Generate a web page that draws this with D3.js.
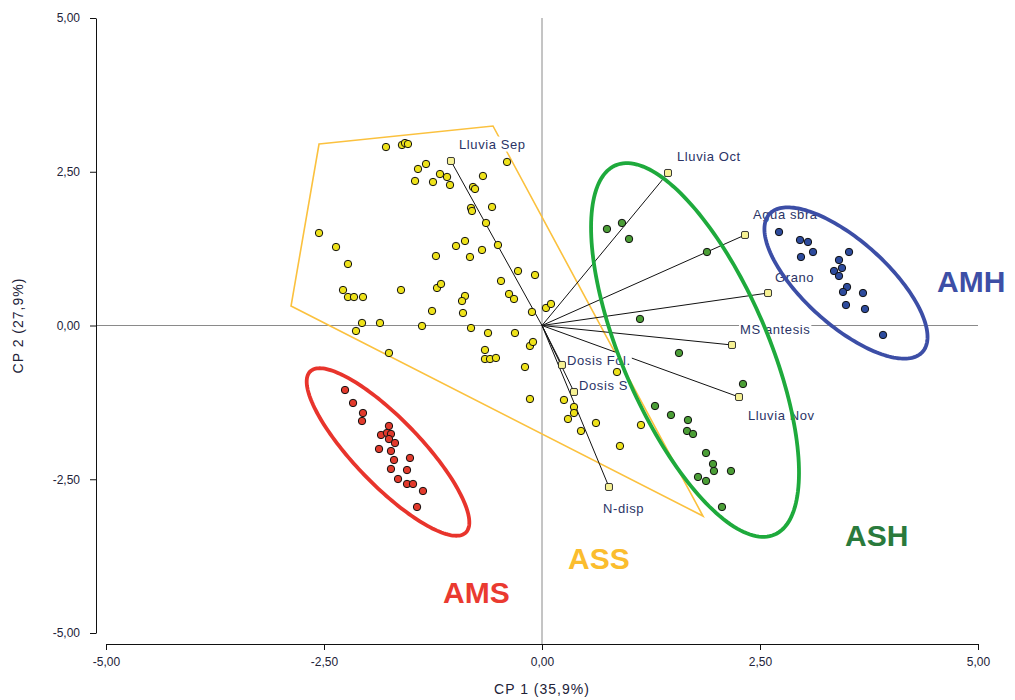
<!DOCTYPE html>
<html>
<head>
<meta charset="utf-8">
<script src="https://cdn.jsdelivr.net/npm/d3@7"></script>
<style>
  body { margin: 0; background: #fff; }
  text { font-family: "Liberation Sans", Arial, sans-serif; }
</style>
</head>
<body>
<svg id="biplot" width="1015" height="700"></svg>
<script>
// scores per group (CP1, CP2)
const ptsASS = [
  [-1.789, 2.902], [-1.606, 2.935], [-1.571, 2.967], [-1.537, 2.951], [-0.401, 2.659],
  [-1.330, 2.626], [-1.422, 2.545], [-1.170, 2.463], [-1.089, 2.415], [-0.677, 2.431],
  [-1.456, 2.350], [-1.250, 2.333], [-1.055, 2.285], [-0.791, 2.252], [-0.768, 2.220],
  [-0.573, 1.927], [-0.814, 1.911], [-0.803, 1.862], [-0.642, 1.667], [-2.557, 1.504],
  [-2.362, 1.276], [-0.986, 1.293], [-0.883, 1.374], [-0.505, 1.309], [-1.216, 1.130],
  [-0.826, 1.114], [-0.688, 1.228], [-2.225, 1.000], [-0.275, 0.886], [-0.080, 0.821],
  [-0.470, 0.724], [-2.282, 0.577], [-2.225, 0.463], [-2.156, 0.463], [-2.053, 0.463],
  [-1.617, 0.577], [-1.204, 0.610], [-1.158, 0.675], [-0.378, 0.512], [-0.321, 0.431],
  [-0.883, 0.480], [-0.917, 0.398], [-1.261, 0.236], [-0.906, 0.203], [-0.115, 0.220],
  [0.046, 0.285], [0.103, 0.350], [-2.064, 0.041], [-2.133, -0.089], [-1.858, 0.041],
  [-1.376, -0.008], [-0.814, -0.041], [-0.619, -0.122], [-0.310, -0.122], [-0.654, -0.398],
  [-0.654, -0.545], [-0.596, -0.545], [-0.528, -0.528], [-0.138, -0.333], [-0.103, -0.268],
  [-0.195, -0.675], [-1.755, -0.447], [0.860, -0.756], [-0.138, -1.195], [0.252, -1.211],
  [0.367, -1.325], [0.367, -1.423], [0.298, -1.520], [0.447, -1.715], [0.619, -1.585],
  [1.135, -1.618], [0.894, -1.959]
];
const ptsAMS = [
  [-2.259, -1.049], [-2.167, -1.260], [-2.053, -1.423], [-2.064, -1.553], [-1.755, -1.634],
  [-1.846, -1.780], [-1.778, -1.748], [-1.732, -1.764], [-1.755, -1.846], [-1.686, -1.911],
  [-1.869, -2.008], [-1.732, -2.041], [-1.697, -2.187], [-1.514, -2.154], [-1.732, -2.333],
  [-1.548, -2.350], [-1.651, -2.496], [-1.548, -2.577], [-1.479, -2.577], [-1.365, -2.691],
  [-1.433, -2.951]
];
const ptsAMH = [
  [2.718, 1.520], [2.959, 1.390], [3.050, 1.358], [3.108, 1.195], [2.970, 1.114],
  [3.521, 1.195], [3.406, 1.065], [3.440, 0.935], [3.349, 0.886], [3.406, 0.805],
  [3.498, 0.626], [3.452, 0.545], [3.681, 0.528], [3.486, 0.333], [3.704, 0.268],
  [3.911, -0.154]
];
const ptsASH = [
  [0.745, 1.569], [0.917, 1.667], [0.998, 1.407], [1.892, 1.195], [1.124, 0.106],
  [1.571, -0.447], [2.305, -0.951], [1.296, -1.309], [1.479, -1.455], [1.674, -1.537],
  [1.663, -1.715], [1.732, -1.764], [1.881, -2.073], [1.961, -2.252], [1.972, -2.366],
  [2.167, -2.366], [1.789, -2.463], [1.881, -2.528], [2.064, -2.951]
];

// variable loadings: tip, then where the label sits
const varNames = ["Lluvia Sep", "Lluvia Oct", "Agua sbra", "Grano", "MS antesis",
                  "Lluvia Nov", "Dosis Fol.", "Dosis S", "N-disp"];
const varTips = [[-1.044, 2.675], [1.445, 2.480], [2.328, 1.472], [2.592, 0.528], [2.179, -0.317],
                 [2.259, -1.163], [0.229, -0.642], [0.367, -1.081], [0.768, -2.626]];
const varLabelAt = [[-0.952, 2.951], [1.548, 2.756], [2.420, 1.813], [2.672, 0.789], [2.271, -0.057],
                    [2.362, -1.455], [0.287, -0.561], [0.424, -0.967], [0.700, -2.967]];

// hull of ASS
const hullASS = [[-2.557, 2.951], [-0.562, 3.244], [1.846, -3.098], [-2.878, 0.317]];

// ellipses: centre, end of major semi-axis, end of minor semi-axis
const ellAMS = [[-1.766, -2.057], [-0.874, -3.367], [-1.494, -1.685]];
const ellASH = [[1.755, -0.398], [2.667, -3.400], [2.523, 0.072]];
const ellAMH = [[3.486, 0.691], [4.364, -0.429], [3.808, 1.198]];

const groupNames = ["AMS", "ASS", "ASH", "AMH"];
const groupLabelAt = [[-1.135, -4.512], [0.298, -3.959], [3.475, -3.585], [4.530, 0.545]];

const ticks = [-5, -2.5, 0, 2.5, 5];

const svg = d3.select("svg#biplot");
const x = d3.scaleLinear().domain([-5, 5]).range([106, 978]);
const y = d3.scaleLinear().domain([-5, 5]).range([633, 18]);
const axisX = 96, axisY = 644;

const fmt = d3.formatLocale({ decimal: ",", thousands: ".", grouping: [3], currency: ["", ""], minus: "-" }).format(".2f");

// zero lines
svg.append("line")
  .attr("x1", axisX).attr("x2", x(5)).attr("y1", y(0)).attr("y2", y(0))
  .attr("stroke", "#8a8a8a").attr("stroke-width", 1);
svg.append("line")
  .attr("x1", x(0)).attr("x2", x(0)).attr("y1", y(5)).attr("y2", axisY)
  .attr("stroke", "#8a8a8a").attr("stroke-width", 1);

// axes
const gy = svg.append("g")
  .attr("transform", `translate(${axisX},0)`)
  .call(d3.axisLeft(y).tickValues(ticks).tickFormat(fmt).tickSizeOuter(0).tickPadding(10));
const gx = svg.append("g")
  .attr("transform", `translate(0,${axisY})`)
  .call(d3.axisBottom(x).tickValues(ticks).tickFormat(fmt).tickSizeOuter(0).tickPadding(7));
[gx, gy].forEach(g => {
  g.select(".domain").attr("stroke", "#111");
  g.selectAll(".tick line").attr("stroke", "#111");
  g.selectAll("text").attr("font-size", 12).attr("fill", "#222238")
    .attr("font-family", "'Liberation Sans', Arial, sans-serif");
});

svg.append("text")
  .attr("x", x(0)).attr("y", 694)
  .attr("text-anchor", "middle").attr("font-size", 14).attr("letter-spacing", 1)
  .attr("fill", "#222238").text("CP 1 (35,9%)");
svg.append("text")
  .attr("transform", `translate(23,${y(0)}) rotate(-90)`)
  .attr("text-anchor", "middle").attr("font-size", 14).attr("letter-spacing", 1)
  .attr("fill", "#222238").text("CP 2 (27,9%)");

// ASS hull
svg.append("path")
  .attr("d", d3.line().x(d => x(d[0])).y(d => y(d[1])).curve(d3.curveLinearClosed)(hullASS))
  .attr("fill", "none").attr("stroke", "#fbc13e").attr("stroke-width", 1.6);

// loading vectors
svg.append("g").selectAll("line")
  .data(varTips).enter().append("line")
  .attr("x1", x(0)).attr("y1", y(0))
  .attr("x2", d => x(d[0])).attr("y2", d => y(d[1]))
  .attr("stroke", "#111").attr("stroke-width", 1);

// score points
const groups = [
  { pts: ptsASS, fill: "#eee21a" },
  { pts: ptsAMS, fill: "#e23a2c" },
  { pts: ptsAMH, fill: "#2d4b9d" },
  { pts: ptsASH, fill: "#4b9e36" }
];
groups.forEach(gr => {
  svg.append("g").selectAll("circle")
    .data(gr.pts).enter().append("circle")
    .attr("cx", d => x(d[0])).attr("cy", d => y(d[1]))
    .attr("r", 3.7)
    .attr("fill", gr.fill).attr("stroke", "#111").attr("stroke-width", 1);
});

// vector tips
svg.append("g").selectAll("rect")
  .data(varTips).enter().append("rect")
  .attr("x", d => x(d[0]) - 3.5).attr("y", d => y(d[1]) - 3.5)
  .attr("width", 7).attr("height", 7).attr("rx", 1.5)
  .attr("fill", "#f6f193").attr("stroke", "#222").attr("stroke-width", 0.9);

// variable labels with white box behind
const lab = svg.append("g");
varNames.forEach((name, i) => {
  const t = lab.append("text")
    .attr("x", x(varLabelAt[i][0])).attr("y", y(varLabelAt[i][1]))
    .attr("dy", "0.35em").attr("font-size", 13).attr("letter-spacing", 0.6)
    .attr("fill", "#2b3466").text(name);
  const bb = t.node().getBBox();
  lab.insert("rect", () => t.node())
    .attr("x", bb.x - 1).attr("y", bb.y).attr("width", bb.width + 2).attr("height", bb.height)
    .attr("fill", "#fff");
});

// group ellipses
const ellLine = d3.line().curve(d3.curveLinearClosed);
function ellPath(e) {
  const [c, m, n] = e;
  const pts = d3.range(0, 2 * Math.PI, Math.PI / 90).map(t => [
    x(c[0] + (m[0] - c[0]) * Math.cos(t) + (n[0] - c[0]) * Math.sin(t)),
    y(c[1] + (m[1] - c[1]) * Math.cos(t) + (n[1] - c[1]) * Math.sin(t))
  ]);
  return ellLine(pts);
}
[[ellAMS, "#e8342c"], [ellASH, "#1eaa3c"], [ellAMH, "#3c4ea6"]].forEach(([e, col]) => {
  svg.append("path").attr("d", ellPath(e))
    .attr("fill", "none").attr("stroke", col).attr("stroke-width", 3.8);
});

// group names
const groupColors = ["#ea3a30", "#fbbd2e", "#2a7a3c", "#3d4fa6"];
svg.append("g").selectAll("text")
  .data(groupNames).enter().append("text")
  .attr("x", (d, i) => x(groupLabelAt[i][0])).attr("y", (d, i) => y(groupLabelAt[i][1]))
  .attr("font-family", "Lato, 'Open Sans', sans-serif").attr("font-weight", 700)
  .attr("font-size", 30)
  .attr("fill", (d, i) => groupColors[i])
  .text(d => d);
</script>
</body>
</html>
